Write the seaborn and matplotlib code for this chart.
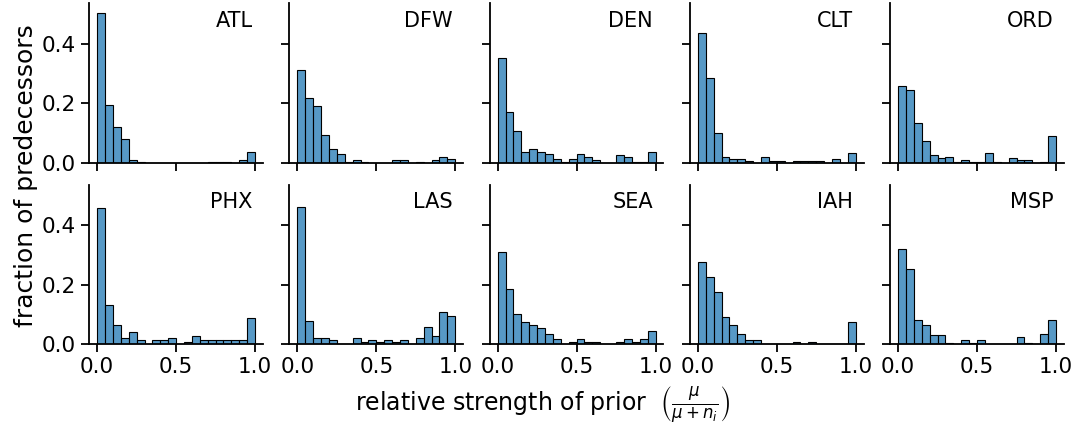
import numpy as np
import pandas as pd
import matplotlib
matplotlib.use("Agg")
import matplotlib.pyplot as plt
import seaborn as sns

airports = ["ATL", "DFW", "DEN", "CLT", "ORD", "PHX", "LAS", "SEA", "IAH", "MSP"]
bin_centers = [0.025, 0.075, 0.125, 0.175, 0.225, 0.275, 0.325, 0.375, 0.425, 0.475,
               0.525, 0.575, 0.625, 0.675, 0.725, 0.775, 0.825, 0.875, 0.925, 0.975]

ATL = [0.504, 0.194, 0.120, 0.081, 0.011, 0.004, 0, 0, 0, 0, 0, 0, 0, 0, 0.004, 0.004, 0.004, 0, 0.011, 0.037]
DFW = [0.313, 0.218, 0.191, 0.093, 0.046, 0.030, 0.002, 0.009, 0.003, 0, 0, 0, 0.009, 0.009, 0, 0.003, 0, 0.009, 0.020, 0.013]
DEN = [0.354, 0.171, 0.107, 0.037, 0.047, 0.037, 0.030, 0.014, 0.004, 0.013, 0.030, 0.020, 0.010, 0, 0, 0.026, 0.020, 0.003, 0.003, 0.037]
CLT = [0.438, 0.287, 0.102, 0.020, 0.013, 0.013, 0.007, 0, 0.020, 0.007, 0.007, 0, 0.007, 0.007, 0.007, 0.007, 0, 0.012, 0, 0.033]
ORD = [0.260, 0.244, 0.136, 0.073, 0.027, 0.016, 0.020, 0.002, 0.009, 0.003, 0.003, 0.033, 0.003, 0, 0.016, 0.009, 0.009, 0, 0.003, 0.091]
PHX = [0.457, 0.131, 0.064, 0.020, 0.043, 0.013, 0, 0.013, 0.013, 0.020, 0, 0.007, 0.028, 0.013, 0.013, 0.013, 0.013, 0.013, 0.013, 0.088]
LAS = [0.462, 0.080, 0.020, 0.020, 0.013, 0, 0, 0.020, 0.007, 0.013, 0.007, 0.013, 0.007, 0.013, 0, 0.020, 0.057, 0.027, 0.109, 0.094]
SEA = [0.309, 0.187, 0.101, 0.074, 0.064, 0.054, 0.036, 0.017, 0, 0.007, 0.017, 0.007, 0.007, 0, 0, 0.007, 0.017, 0.007, 0.017, 0.046]
IAH = [0.278, 0.226, 0.175, 0.091, 0.065, 0.033, 0.016, 0.016, 0, 0, 0, 0, 0.007, 0, 0.007, 0, 0, 0, 0, 0.075]
MSP = [0.322, 0.254, 0.083, 0.066, 0.031, 0.031, 0.006, 0, 0.016, 0.006, 0.016, 0, 0, 0, 0, 0.024, 0.006, 0, 0.033, 0.083]

series = dict(ATL=ATL, DFW=DFW, DEN=DEN, CLT=CLT, ORD=ORD,
              PHX=PHX, LAS=LAS, SEA=SEA, IAH=IAH, MSP=MSP)

sns.set_theme(style="ticks")
plt.rcParams['font.family'] = ['DejaVu Sans']
plt.rcParams['text.color'] = 'black'
plt.rcParams['axes.labelcolor'] = 'black'
plt.rcParams['xtick.color'] = 'black'
plt.rcParams['ytick.color'] = 'black'
plt.rcParams['axes.linewidth'] = 1.3
plt.rcParams['xtick.major.width'] = 1.3
plt.rcParams['ytick.major.width'] = 1.3
plt.rcParams['xtick.major.size'] = 6
plt.rcParams['ytick.major.size'] = 6
plt.rcParams['xtick.labelsize'] = 15.5
plt.rcParams['ytick.labelsize'] = 15.5
plt.rcParams['axes.edgecolor'] = 'black'

fig, axes = plt.subplots(2, 5, figsize=(10.78, 4.25), dpi=100, sharex=True, sharey=True)
fig.subplots_adjust(left=0.0828, right=0.0828 + 5 * 0.1611 + 4 * 0.1611 * 0.153,
                    bottom=0.1899, top=0.9922, wspace=0.153, hspace=0.136)

for ax, name in zip(axes.flat, airports):
    df = pd.DataFrame({"x": bin_centers, "w": series[name]})
    sns.histplot(data=df, x="x", weights="w", binwidth=0.05, binrange=(0, 1), ax=ax,
                 color="#1f77b4", alpha=0.75, edgecolor="black", linewidth=0.8)
    ax.text(0.94, 0.89, name, transform=ax.transAxes, ha="right", va="center", fontsize=15)
    ax.set_xlabel("")
    ax.set_ylabel("")
    sns.despine(ax=ax)
    ax.set_xlim(-0.05, 1.05)
    ax.set_ylim(0, 0.537)
    ax.set_xticks([0.0, 0.5, 1.0])
    ax.set_yticks([0.0, 0.2, 0.4])

for ax in axes[1]:
    ax.set_xticklabels(["0.0", "0.5", "1.0"])
for ax in axes[:, 0]:
    ax.set_yticklabels(["0.0", "0.2", "0.4"])

fig.text(0.503, 0.048, r"relative strength of prior  $\left(\frac{\mu}{\mu + n_i}\right)$",
         ha="center", va="center", fontsize=17)
fig.text(0.024, 0.586, "fraction of predecessors", rotation=90, ha="center", va="center", fontsize=18)

fig.savefig("out.png", dpi=100)
